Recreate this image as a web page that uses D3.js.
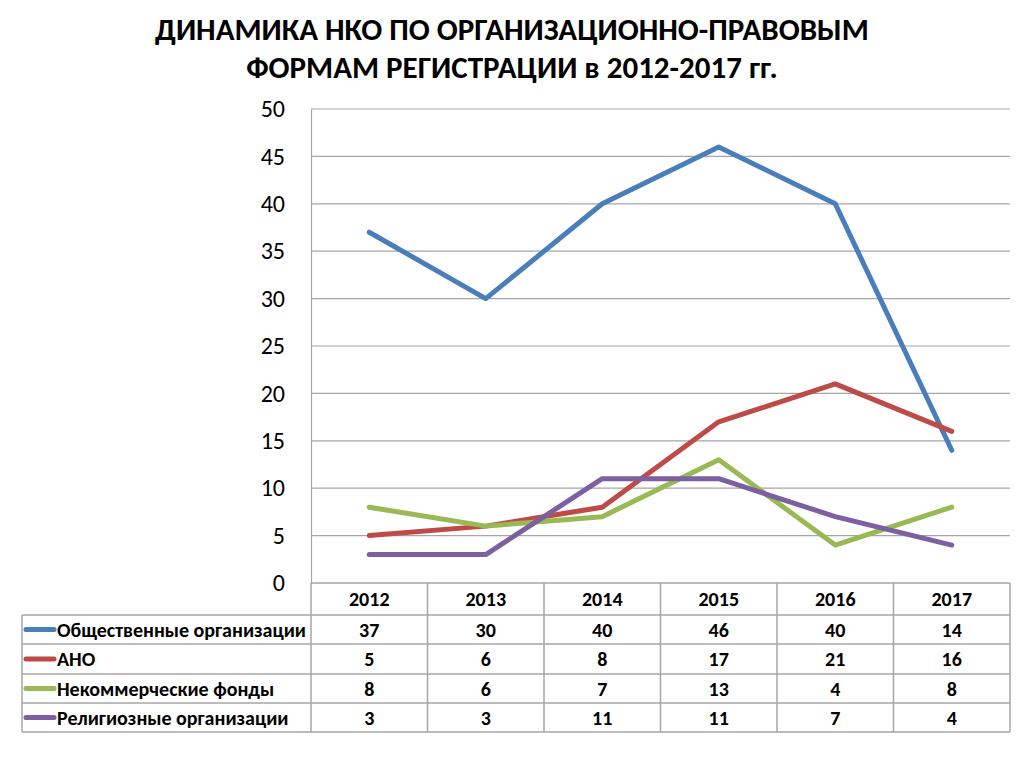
<!DOCTYPE html>
<html><head><meta charset="utf-8">
<script src="https://cdn.jsdelivr.net/npm/d3@7/dist/d3.min.js"></script>
<style>body{margin:0;background:#fff;}svg{display:block;}</style>
</head><body>
<svg id="c" width="1024" height="767"></svg>
<script>
const years = ["2012","2013","2014","2015","2016","2017"];
const seriesNames = ["Общественные организации","АНО","Некоммерческие фонды","Религиозные организации"];
const obsh = [37,30,40,46,40,14];
const ano = [5,6,8,17,21,16];
const fondy = [8,6,7,13,4,8];
const relig = [3,3,11,11,7,4];
const yTicks = [0,5,10,15,20,25,30,35,40,45,50];
const colors = ["#4a7ebb","#be4b48","#98b954","#7d60a0"];
const titleLines = ["ДИНАМИКА НКО ПО ОРГАНИЗАЦИОННО-ПРАВОВЫМ","ФОРМАМ РЕГИСТРАЦИИ в 2012-2017 гг."];

const series = [obsh, ano, fondy, relig];
const svg = d3.select("#c");
const L = 311, R = 1010, T = 109, B = 583;
const font = "Carlito, Calibri, Lato, 'Open Sans', sans-serif";

const x = d3.scaleBand().domain(years).range([L, R]);
const y = d3.scaleLinear().domain([0,50]).range([B, T]);

// title
svg.selectAll("text.title").data(titleLines).enter().append("text")
  .attr("x", 512).attr("y", (d,i)=> 40 + i*38)
  .attr("text-anchor","middle").attr("font-family", font)
  .attr("font-weight","bold").attr("font-size", 31).attr("fill","#000")
  .text(d=>d);

// gridlines
svg.append("g").selectAll("line").data(yTicks.filter(t=>t>0)).enter().append("line")
  .attr("x1", L).attr("x2", R).attr("y1", d=>y(d)).attr("y2", d=>y(d))
  .attr("stroke","#a6a6a6").attr("stroke-width",1.2);

// y axis
const yAxis = d3.axisLeft(y).tickValues(yTicks).tickSize(0).tickPadding(26);
const ga = svg.append("g").attr("transform",`translate(${L},0)`).call(yAxis);
ga.select(".domain").attr("stroke","#a6a6a6").attr("stroke-width",1.2);
ga.selectAll("text").attr("font-family",font).attr("font-size",24).attr("fill","#000");

// lines
const line = d3.line().x((d,i)=> x(years[i]) + x.bandwidth()/2).y(d=>y(d));
svg.append("g").selectAll("path").data(series).enter().append("path")
  .attr("d", line).attr("fill","none")
  .attr("stroke",(d,i)=>colors[i]).attr("stroke-width",5)
  .attr("stroke-linejoin","round").attr("stroke-linecap","round");

// data table
const rowEdges = [583, 615, 644, 674, 703, 732];
const tLeft = 22;
const g = svg.append("g");
const stroke = "#a6a6a6";
const fs = 20;
g.append("line").attr("x1",L).attr("x2",R).attr("y1",rowEdges[0]).attr("y2",rowEdges[0]).attr("stroke",stroke).attr("stroke-width",1.5);
for (let k=1;k<rowEdges.length;k++){
  g.append("line").attr("x1",tLeft).attr("x2",R).attr("y1",rowEdges[k]).attr("y2",rowEdges[k]).attr("stroke",stroke).attr("stroke-width",1.5);
}
g.append("line").attr("x1",tLeft).attr("x2",tLeft).attr("y1",rowEdges[1]).attr("y2",rowEdges[5]).attr("stroke",stroke).attr("stroke-width",1.5);
years.forEach((yr,i)=>{
  g.append("line").attr("x1",x(yr)).attr("x2",x(yr)).attr("y1",rowEdges[0]).attr("y2",rowEdges[5]).attr("stroke",stroke).attr("stroke-width",1.5);
});
g.append("line").attr("x1",R).attr("x2",R).attr("y1",rowEdges[0]).attr("y2",rowEdges[5]).attr("stroke",stroke).attr("stroke-width",1.5);

g.selectAll("text.hdr").data(years).enter().append("text")
  .attr("x", d=>x(d)+x.bandwidth()/2).attr("y",(rowEdges[0]+rowEdges[1])/2)
  .attr("dy","0.35em").attr("text-anchor","middle")
  .attr("font-family",font).attr("font-weight","bold").attr("font-size",fs).text(d=>d);

series.forEach((s,si)=>{
  const cy = (rowEdges[si+1]+rowEdges[si+2])/2;
  g.append("line").attr("x1",26).attr("x2",54).attr("y1",cy).attr("y2",cy)
    .attr("stroke",colors[si]).attr("stroke-width",5).attr("stroke-linecap","round");
  g.append("text").attr("x",57).attr("y",cy).attr("dy","0.35em")
    .attr("font-family",font).attr("font-weight","bold").attr("font-size",fs).text(seriesNames[si]);
  g.selectAll(null).data(s).enter().append("text")
    .attr("x",(d,i)=>x(years[i])+x.bandwidth()/2).attr("y",cy).attr("dy","0.35em")
    .attr("text-anchor","middle").attr("font-family",font).attr("font-weight","bold").attr("font-size",fs)
    .text(d=>d);
});
</script>
</body></html>
